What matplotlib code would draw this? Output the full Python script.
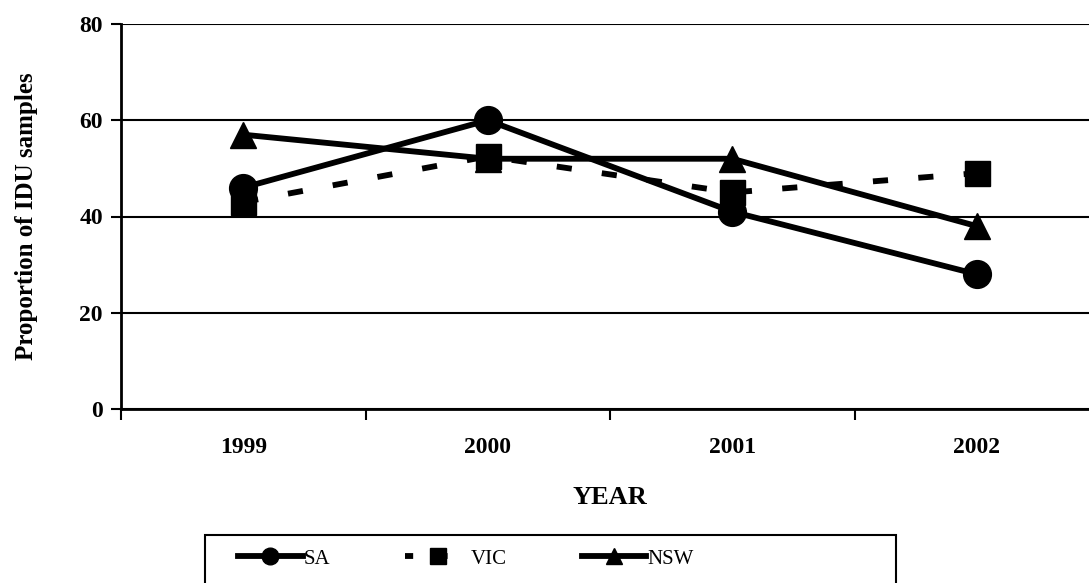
import matplotlib.pyplot as plt
from matplotlib.lines import Line2D
from matplotlib.patches import Rectangle

years = ["1999", "2000", "2001", "2002"]
sa = [46, 60, 41, 28]
vic = [43, 52.5, 45, 49]
nsw = [57, 52, 52, 38]

plt.rcParams["font.family"] = ["Liberation Serif", "DejaVu Serif"]

W, H = 1089, 583
fig = plt.figure(figsize=(W / 100, H / 100), dpi=100)
# axes box in pixels: left 121, right ~1099 (clipped), top 24, bottom 409
ax = fig.add_axes([121 / W, 1 - 409 / H, 978 / W, 385 / H])

x = list(range(len(years)))
lw = 4.2
ax.plot(x, sa, color="black", lw=lw, marker="o", ms=20, zorder=3, label="SA")
ax.plot(x, vic, color="black", lw=lw, marker="s", ms=18, dashes=(2.6, 5.2),
        zorder=3, label="VIC")
ax.plot(x, nsw, color="black", lw=lw, marker="^", ms=19, zorder=3, label="NSW")

ax.set_xlim(-0.5, 3.5)
ax.set_ylim(0, 80)
ax.set_yticks([0, 20, 40, 60, 80])
ax.yaxis.grid(True, color="black", lw=1.5)
ax.set_axisbelow(True)

# boundaries as major ticks, labels on category centres
ax.set_xticks([-0.5, 0.5, 1.5, 2.5, 3.5])
ax.set_xticklabels([])
ax.set_xticks(x, minor=True)
ax.set_xticklabels(years, minor=True)
ax.tick_params(axis="x", which="major", direction="out", length=8, width=1.5)
ax.tick_params(axis="x", which="minor", length=0, pad=20, labelsize=17)
ax.tick_params(axis="y", direction="out", length=7, width=1.5, labelsize=17, pad=6)
for lab in ax.get_xticklabels(minor=True) + ax.get_yticklabels():
    lab.set_fontweight("bold")

for side in ["top", "right"]:
    ax.spines[side].set_visible(False)
ax.spines["left"].set_linewidth(2)
ax.spines["bottom"].set_linewidth(2)

ax.set_xlabel("YEAR", fontsize=19, fontweight="bold", labelpad=20)
ax.set_ylabel("Proportion of IDU samples", fontsize=18, fontweight="bold", labelpad=30)

# legend box runs off the bottom edge of the picture
fig.add_artist(Rectangle((205 / W, -0.05), 691 / W, 1 - 535 / H + 0.05,
                         transform=fig.transFigure, fill=False,
                         edgecolor="black", lw=1.5))

handles = [
    Line2D([], [], color="black", lw=lw, marker="o", ms=12),
    Line2D([], [], color="black", lw=lw, marker="s", ms=12, dashes=(1.4, 4.5)),
    Line2D([], [], color="black", lw=lw, marker="^", ms=12),
]
leg = fig.legend(handles, ["SA", "VIC", "NSW"], ncol=3, loc="upper left",
                 bbox_to_anchor=(238 / W, 1 - 549 / H),
                 frameon=False, fontsize=15,
                 handlelength=3.1, handletextpad=0.05, columnspacing=3.6,
                 borderpad=0, borderaxespad=0)

fig.savefig("out.png", dpi=100)
